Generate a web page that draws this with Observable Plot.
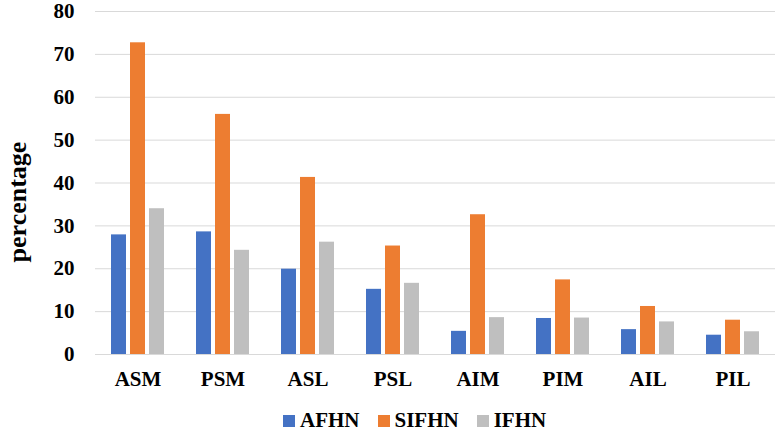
<!DOCTYPE html>
<html><head><meta charset="utf-8">
<script src="https://cdn.jsdelivr.net/npm/d3@7"></script>
<script src="https://cdn.jsdelivr.net/npm/@observablehq/plot@0.6"></script>
<style>
body{margin:0;background:#fff;font-family:"Liberation Serif","Times New Roman",serif;}
#legend{display:flex;align-items:center;height:31px;padding-left:283px;padding-top:10px;box-sizing:border-box;font-weight:bold;font-size:21px;line-height:21px;overflow:visible;}
#legend .sw{width:12px;height:12px;margin-right:5px;}
#legend .lb{margin-right:18px;}
</style></head><body><div id="chart"></div><div id="legend"></div><script>
const categories = ["ASM","PSM","ASL","PSL","AIM","PIM","AIL","PIL"];
const series = ["AFHN","SIFHN","IFHN"];
const afhn  = [27.9, 28.6, 19.9, 15.2, 5.4, 8.4, 5.8, 4.5];
const sifhn = [72.7, 56.0, 41.3, 25.3, 32.6, 17.4, 11.2, 8.0];
const ifhn  = [34.0, 24.3, 26.2, 16.6, 8.6, 8.5, 7.6, 5.3];
const colors = ["#4472C4", "#ED7D31", "#BFBFBF"];
const yTicks = [0, 10, 20, 30, 40, 50, 60, 70, 80];
const yLabel = "percentage";

const values = [afhn, sifhn, ifhn];
const data = [];
categories.forEach((c, i) => series.forEach((s, j) => data.push({category: c, series: s, value: values[j][i]})));

const chart = Plot.plot({
  width: 778,
  height: 400,
  marginTop: 11,
  marginLeft: 92,
  marginRight: 1,
  marginBottom: 46,
  style: {fontFamily: '"Liberation Serif","Times New Roman",serif', fontWeight: "bold", color: "#000", background: "#fff", overflow: "visible"},
  fx: {domain: categories, padding: 0},
  x: {domain: series, paddingInner: 0.23, paddingOuter: 0.81, axis: null},
  y: {domain: [0, 80]},
  color: {domain: series, range: colors},
  marks: [
    Plot.gridY(yTicks, {stroke: "#d9d9d9", strokeOpacity: 1, strokeWidth: 1}),
    Plot.axisY(yTicks, {tickSize: 0, tickPadding: 21, fontSize: 21, label: null}),
    Plot.axisFx({anchor: "bottom", tickSize: 0, tickPadding: 17, fontSize: 21, label: null}),
    Plot.barY(data, {fx: "category", x: "series", y: "value", fill: "series"}),
    Plot.text([{category: categories[0]}], {fx: "category", text: () => yLabel, frameAnchor: "left", textAnchor: "middle", rotate: -90, dx: -78, dy: 19, fontSize: 26, fontWeight: "bold"})
  ]
});
document.getElementById("chart").appendChild(chart);

const legend = document.getElementById("legend");
series.forEach((s, j) => {
  const sw = document.createElement("span"); sw.className = "sw"; sw.style.background = colors[j];
  const lb = document.createElement("span"); lb.className = "lb"; lb.textContent = s;
  legend.appendChild(sw); legend.appendChild(lb);
});
</script></body></html>
